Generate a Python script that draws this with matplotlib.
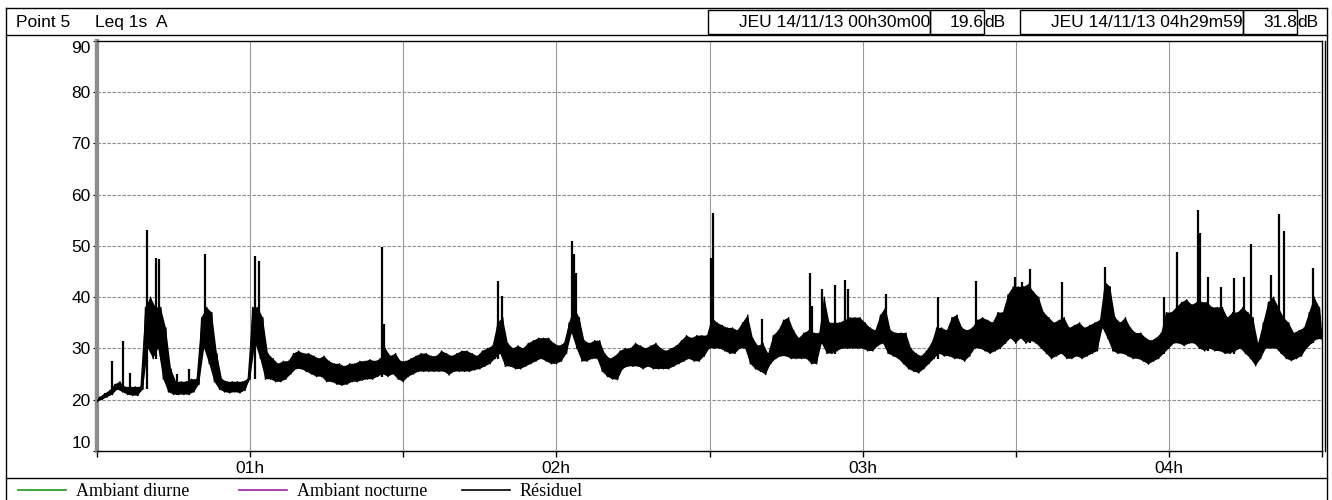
import matplotlib
matplotlib.use("Agg")
import matplotlib.pyplot as plt
from matplotlib.patches import Rectangle

# ----------------------------------------------------------------------------
# Data: Leq 1s read off the chart as a per-minute noise band (low / high)
# plus the isolated peaks. minute 0 = 00h30m00, minute 239 = 04h29m
# ----------------------------------------------------------------------------
band_low = [
    19.6, 20.0, 20.5, 21.0, 22.0, 21.5, 21.0, 20.8, 20.8, 22.0,   # 0-9
    30.0, 28.0, 30.0, 24.0, 21.5, 21.0, 21.0, 21.0, 21.0, 21.5,   # 10-19
    23.0, 30.0, 27.0, 23.5, 22.0, 21.5, 21.3, 21.5, 21.3, 21.8,   # 20-29
    24.0, 31.0, 28.0, 24.0, 24.0, 23.5, 23.5, 24.0, 25.0, 26.0,   # 30-39
    26.0, 25.5, 25.0, 24.5, 24.5, 23.5, 23.5, 23.0, 22.8, 23.0,   # 40-49
    23.5, 23.5, 23.8, 24.0, 24.0, 24.5, 25.0, 24.5, 25.0, 24.0,   # 50-59
    23.5, 24.5, 25.0, 25.5, 25.5, 25.5, 25.5, 25.5, 25.5, 24.8,   # 60-69
    25.5, 25.5, 25.5, 25.5, 25.8, 26.0, 26.5, 27.0, 28.0, 29.0,   # 70-79
    26.5, 26.5, 26.0, 26.0, 26.5, 27.0, 27.5, 28.0, 27.5, 27.0,   # 80-89
    27.0, 27.5, 29.0, 33.0, 30.0, 27.5, 27.5, 28.0, 28.0, 25.5,   # 90-99
    24.5, 24.0, 23.9, 26.0, 26.5, 26.5, 26.5, 26.0, 26.5, 26.0,   # 100-109
    26.0, 26.0, 26.0, 26.5, 27.0, 27.5, 28.0, 27.5, 27.5, 28.5,   # 110-119
    30.0, 30.0, 30.0, 29.5, 29.0, 29.0, 30.0, 30.0, 27.0, 26.0,   # 120-129
    25.5, 24.9, 27.0, 28.0, 28.5, 28.5, 28.0, 28.0, 28.0, 28.0,   # 130-139
    27.0, 27.0, 31.0, 29.0, 29.0, 29.5, 30.0, 30.0, 30.0, 30.0,   # 140-149
    30.0, 29.5, 29.5, 30.5, 31.0, 29.0, 28.5, 28.0, 27.0, 26.0,   # 150-159
    25.5, 25.2, 26.0, 27.0, 28.0, 29.0, 28.5, 28.5, 28.0, 28.0,   # 160-169
    27.5, 28.5, 30.0, 30.0, 29.5, 29.0, 29.5, 30.0, 31.0, 32.0,   # 170-179
    31.0, 32.0, 31.0, 31.5, 31.0, 30.0, 29.0, 28.0, 28.5, 29.0,   # 180-189
    28.0, 28.0, 28.5, 28.0, 28.5, 29.0, 29.5, 34.0, 32.0, 29.5,   # 190-199
    29.0, 29.0, 28.5, 28.0, 28.0, 27.5, 26.9, 27.5, 28.0, 29.0,   # 200-209
    30.0, 31.0, 31.0, 30.5, 31.0, 31.0, 30.0, 29.5, 30.0, 29.5,   # 210-219
    29.5, 29.0, 29.0, 29.5, 30.0, 29.0, 28.0, 26.6, 28.0, 30.0,   # 220-229
    30.0, 30.0, 29.0, 28.0, 27.6, 28.0, 28.5, 30.0, 31.0, 31.8,   # 230-239
]
band_high = [
    20.5, 21.2, 21.8, 23.0, 23.5, 22.5, 22.5, 22.5, 22.5, 38.0,   # 0-9
    40.0, 38.0, 38.0, 34.0, 26.0, 23.5, 23.5, 23.5, 24.0, 24.0,   # 10-19
    36.0, 38.0, 37.0, 29.0, 24.0, 23.5, 23.5, 23.5, 23.5, 24.0,   # 20-29
    38.0, 38.0, 36.0, 29.0, 28.0, 27.0, 27.5, 27.5, 29.0, 29.5,   # 30-39
    29.0, 29.0, 28.5, 28.0, 28.5, 27.5, 27.0, 27.0, 26.5, 27.0,   # 40-49
    27.0, 27.5, 27.5, 27.8, 27.5, 28.0, 30.0, 28.5, 29.0, 27.5,   # 50-59
    27.5, 28.0, 28.5, 29.0, 29.0, 28.5, 28.5, 29.5, 29.0, 28.5,   # 60-69
    29.0, 29.5, 29.5, 29.0, 28.5, 29.5, 30.0, 30.5, 35.0, 36.0,   # 70-79
    31.0, 30.0, 30.5, 30.0, 31.0, 31.5, 32.0, 32.0, 32.0, 31.0,   # 80-89
    30.5, 31.0, 35.0, 38.0, 36.0, 31.5, 31.0, 31.5, 31.5, 29.0,   # 90-99
    28.0, 28.5, 29.5, 30.0, 30.0, 31.0, 30.5, 30.0, 30.5, 31.0,   # 100-109
    30.0, 29.5, 30.0, 30.5, 31.5, 32.5, 32.0, 32.5, 32.5, 32.5,   # 110-119
    36.0, 35.0, 34.5, 34.0, 34.0, 33.5, 35.0, 36.5, 32.0, 30.5,   # 120-129
    31.0, 29.0, 32.5, 33.5, 35.5, 36.0, 33.5, 32.0, 33.0, 33.5,   # 130-139
    33.0, 33.0, 40.0, 35.0, 35.0, 35.0, 35.5, 36.0, 36.0, 36.0,   # 140-149
    35.0, 34.0, 33.5, 36.5, 38.0, 33.5, 33.0, 33.0, 33.0, 30.0,   # 150-159
    29.0, 28.5, 29.5, 31.0, 34.0, 34.0, 33.5, 36.0, 36.5, 34.0,   # 160-169
    33.5, 34.0, 35.5, 36.0, 35.5, 35.0, 37.0, 37.0, 40.5, 42.0,   # 170-179
    42.0, 42.0, 42.5, 41.0, 40.0, 37.0, 36.0, 35.0, 35.5, 36.0,   # 180-189
    34.0, 34.5, 35.0, 34.0, 34.5, 35.0, 35.5, 43.0, 42.0, 36.0,   # 190-199
    35.0, 36.0, 34.0, 33.0, 33.0, 32.0, 31.5, 32.0, 33.0, 37.0,   # 200-209
    37.0, 38.0, 39.0, 39.5, 38.5, 39.0, 39.0, 39.0, 38.0, 38.0,   # 210-219
    38.0, 36.0, 37.0, 37.0, 38.0, 37.0, 36.0, 31.0, 35.0, 39.0,   # 220-229
    40.0, 38.0, 36.0, 35.0, 33.0, 33.5, 34.0, 37.0, 40.0, 38.0,   # 230-239
]
# isolated peaks: (minute, dB)
peak_min = [3.0, 5.0, 6.4, 9.8, 11.5, 12.1, 15.7, 18.1, 21.1, 30.9, 31.8,
            55.8, 56.3, 78.5, 79.3, 93.0, 93.5, 93.8, 120.3, 120.7, 130.3,
            139.6, 140.1, 142.0, 144.6, 146.5, 147.1, 154.5, 164.8, 172.2,
            179.9, 181.2, 182.8, 189.1, 197.4, 209.1, 211.5, 215.8, 216.0,
            217.6, 220.2, 222.7, 224.8, 226.0, 230.0, 231.5, 232.5, 238.3]
peak_db = [27.5, 31.4, 25.3, 53.0, 47.7, 47.5, 25.0, 26.0, 48.5, 48.0, 47.0,
           49.7, 34.7, 43.2, 40.2, 51.0, 48.4, 44.8, 47.7, 56.5, 35.7,
           44.7, 38.3, 41.5, 42.3, 43.4, 41.5, 40.7, 40.0, 43.2,
           44.0, 43.0, 45.4, 43.0, 45.8, 40.0, 48.8, 57.0, 52.6,
           44.0, 42.0, 43.7, 44.0, 50.4, 44.3, 56.2, 52.9, 45.7]
last_value = 31.8

hour_ticks = [0, 30, 60, 90, 120, 150, 180, 210, 240]
hour_labels = ['', '01h', '', '02h', '', '03h', '', '04h', '']
db_ticks = [10, 20, 30, 40, 50, 60, 70, 80, 90]

legend_items = [('Ambiant diurne', '#1a9a1a'),
                ('Ambiant nocturne', '#a020a0'),
                ('Résiduel', 'black')]

SANS = ['Liberation Sans', 'DejaVu Sans']
SERIF = ['Liberation Serif', 'DejaVu Serif']
FS = 12.5

# ----------------------------------------------------------------------------
W, H = 1332, 500
fig = plt.figure(figsize=(W / 100, H / 100), dpi=100)

# pixel-space overlay for frames, header and legend
ov = fig.add_axes([0, 0, 1, 1], zorder=0)
ov.set_xlim(0, W)
ov.set_ylim(H, 0)
ov.axis('off')

# plot area in pixels
PL, PR, PT, PB = 97, 1322, 40.7, 451
ax = fig.add_axes([PL / W, 1 - PB / H, (PR - PL) / W, (PB - PT) / H], zorder=2)

# noise band: lower edge at minute start, upper edge at half minute
n = len(band_low)
up_x = [i + 0.5 for i in range(n)]
lo_x = list(range(n))
poly_x = [0] + up_x + [n] + lo_x[::-1]
poly_y = [band_low[0]] + band_high + [last_value] + band_low[::-1]
ax.fill(poly_x, poly_y, color='black', lw=0, zorder=3)

# rough edges: zig-zag through the band
xs, ys = [], []
for i in range(n):
    xs += [i, i + 0.5]
    ys += [band_low[i], band_high[i]]
xs.append(n)
ys.append(last_value)
ax.plot(xs, ys, color='black', lw=1.0, zorder=3)

# isolated peaks, rising from the band floor of their minute
peak_base = [band_low[int(t)] for t in peak_min]
ax.vlines(peak_min, peak_base, peak_db, color='black', lw=1.6, zorder=3)

ax.set_xlim(0, 240)
ax.set_ylim(10, 90)
ax.set_xticks(hour_ticks)
ax.set_xticklabels(hour_labels, family=SANS, fontsize=FS)
ax.set_yticks(db_ticks)
ax.set_yticklabels([str(v) for v in db_ticks], family=SANS, fontsize=FS)
ax.tick_params(axis='x', direction='out', length=4, width=1, pad=3)
ax.tick_params(axis='y', direction='out', length=3, width=0.8, pad=1.5)
ylabs = ax.get_yticklabels()
ylabs[0].set_va('bottom')
ylabs[-1].set_va('top')

for v in db_ticks[1:-1]:
    ax.axhline(v, color='#8a8a8a', lw=0.8, ls=(0, (3, 1.5)), zorder=1)
for v in hour_ticks[1:-1]:
    ax.axvline(v, color='#9a9a9a', lw=0.8, zorder=1)

ax.spines['left'].set_linewidth(3)
ax.spines['left'].set_color('#8c8c8c')
for s in ('top', 'bottom', 'right'):
    ax.spines[s].set_linewidth(1)
    ax.spines[s].set_color('black')

# black edge of the thick left axis and double right edge
ov.plot([95, 95], [PT, PB], color='black', lw=0.8)
ov.plot([1325, 1325], [PT, PB], color='black', lw=1)

# ---- outer frame ----
k = dict(color='black', lw=1)
ov.plot([6, 6], [8, H], **k)
ov.plot([1327, 1327], [8, H], **k)
ov.plot([6, 1327], [8, 8], **k)
ov.plot([6, 1327], [35, 35], **k)
ov.plot([6, 1327], [478, 478], **k)

# ---- header ----
HY = 22.5
ov.text(16, HY, 'Point 5', family=SANS, fontsize=FS, va='center')
ov.text(95, HY, 'Leq 1s  A', family=SANS, fontsize=FS, va='center')
boxes = [(708, 930), (930, 984), (1020, 1243), (1243, 1297)]
for x0, x1 in boxes:
    ov.add_patch(Rectangle((x0, 9.5), x1 - x0, 24, fill=False, edgecolor='black', lw=1))
ov.text(930, HY, 'JEU 14/11/13 00h30m00', family=SANS, fontsize=FS, va='center', ha='right')
ov.text(984, HY, '19.6', family=SANS, fontsize=FS, va='center', ha='right')
ov.text(984, HY, 'dB', family=SANS, fontsize=FS, va='center', ha='left')
ov.text(1243, HY, 'JEU 14/11/13 04h29m59', family=SANS, fontsize=FS, va='center', ha='right')
ov.text(1297, HY, '31.8', family=SANS, fontsize=FS, va='center', ha='right')
ov.text(1297, HY, 'dB', family=SANS, fontsize=FS, va='center', ha='left')

# ---- legend ----
lx = [18, 239, 462]
for (name, col), x0 in zip(legend_items, lx):
    ov.plot([x0, x0 + 48], [490, 490], color=col, lw=1.2)
    ov.text(x0 + 58, 491, name, family=SERIF, fontsize=13, va='center')

fig.savefig('out.png', dpi=100)
